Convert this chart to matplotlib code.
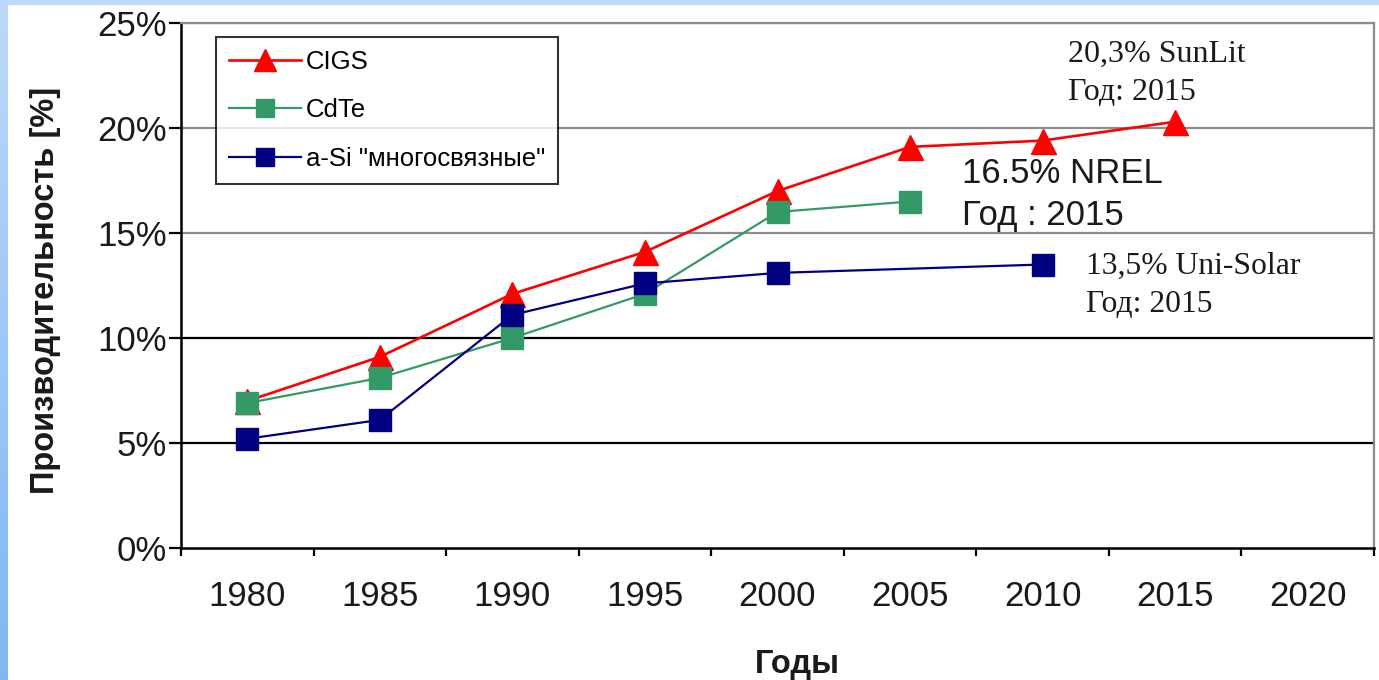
import numpy as np
import matplotlib
matplotlib.use("Agg")
import matplotlib.pyplot as plt
from matplotlib.patches import Rectangle

# Data: efficiency of thin-film solar cells by year
years = ["1980", "1985", "1990", "1995", "2000", "2005", "2010", "2015", "2020"]
cigs = [7.0, 9.1, 12.1, 14.1, 17.0, 19.1, 19.4, 20.3, None]
cdte = [6.9, 8.1, 10.0, 12.1, 16.0, 16.5, None, None, None]
asi = [5.2, 6.1, 11.1, 12.6, 13.1, None, 13.5, None, None]
series_names = ["CIGS", "CdTe", "a-Si \"многосвязные\""]
y_ticks = [0, 5, 10, 15, 20, 25]

SANS = ["Liberation Sans", "DejaVu Sans"]
SERIF = ["Liberation Serif", "DejaVu Serif"]
plt.rcParams["font.family"] = SANS

W, H = 1379, 680
fig = plt.figure(figsize=(W / 100, H / 100), dpi=100, facecolor="white")

# Light blue frame along the top and left edges
grad = fig.add_axes([0, 0, 8 / W, 1])
g = np.linspace(0, 1, 256).reshape(-1, 1)
top_c = np.array([0.74, 0.85, 0.98])
bot_c = np.array([0.50, 0.72, 0.95])
img = (bot_c * (1 - g) + top_c * g).reshape(256, 1, 3)
grad.imshow(img, aspect="auto", origin="lower", extent=[0, 1, 0, 1])
grad.set_axis_off()
fig.patches.append(Rectangle((0, 1 - 5 / H), 1, 5 / H, transform=fig.transFigure,
                             facecolor=(0.74, 0.85, 0.98), edgecolor="none", zorder=0))

L, R, T, B = 181, 1374, 23, 548
ax = fig.add_axes([L / W, 1 - B / H, (R - L) / W, (B - T) / H])
ax.set_facecolor("white")

x = np.arange(len(years))

def pts(vals):
    xs = [xi for xi, v in zip(x, vals) if v is not None]
    ys = [v for v in vals if v is not None]
    return xs, ys

# Horizontal grid lines
for yv in y_ticks[1:]:
    col = "black" if yv in (5, 10) else "#8c8c8c"
    ax.axhline(yv, color=col, lw=1.6, zorder=1)

xs, ys = pts(cigs)
ax.plot(xs, ys, color="#ff0000", lw=1.9, marker="^", ms=18, mec="#ff0000",
        mfc="#ff0000", label=series_names[0], zorder=3)
xs, ys = pts(cdte)
ax.plot(xs, ys, color="#339966", lw=1.6, marker="s", ms=15.5, mec="#339966",
        mfc="#339966", label=series_names[1], zorder=4)
xs, ys = pts(asi)
ax.plot(xs, ys, color="#000080", lw=1.6, marker="s", ms=15.5, mec="#000080",
        mfc="#000080", label=series_names[2], zorder=5)

ax.set_xlim(-0.5, len(years) - 0.5)
ax.set_ylim(0, 25)

# Category axis: tick marks between categories, labels at centres
ax.set_xticks(np.arange(-0.5, len(years), 1.0))
ax.set_xticklabels([])
ax.set_xticks(x, minor=True)
ax.set_xticklabels(years, minor=True, fontsize=25, color="#1a1a1a")
ax.tick_params(axis="x", which="major", length=6, width=1.6, direction="out", color="black")
ax.tick_params(axis="x", which="minor", length=0, pad=23)

ax.set_yticks(y_ticks)
ax.set_yticklabels([f"{v}%" for v in y_ticks], fontsize=25, color="#1a1a1a")
ax.tick_params(axis="y", length=9, width=1.6, direction="out", pad=1, color="black")

for s in ("left", "bottom"):
    ax.spines[s].set_color("black")
    ax.spines[s].set_linewidth(1.8)
for s in ("top", "right"):
    ax.spines[s].set_color("#8c8c8c")
    ax.spines[s].set_linewidth(1.6)

leg = ax.legend(loc="upper left", bbox_to_anchor=((216 - L) / (R - L), (B - 37) / (B - T)),
                borderaxespad=0, fontsize=18.5, frameon=True, fancybox=False,
                edgecolor="black", handlelength=2.8, handletextpad=0.2,
                labelspacing=0.95, borderpad=0.5, markerscale=0.85)
leg.get_frame().set_linewidth(1.5)
leg.set_zorder(10)

# Record-efficiency annotations (anchored at the baseline of the last line)
ax.text((1068 - L) / (R - L), (B - 100) / (B - T), "20,3% SunLit\nГод: 2015",
        transform=ax.transAxes, family=SERIF, fontsize=23, color="#1a1a1a",
        ha="left", va="baseline", linespacing=1.4)
ax.text((962 - L) / (R - L), (B - 225) / (B - T), "16.5% NREL\nГод : 2015",
        transform=ax.transAxes, family=SANS, fontsize=25, color="#1a1a1a",
        ha="left", va="baseline", linespacing=1.35)
ax.text((1086 - L) / (R - L), (B - 312) / (B - T), "13,5% Uni-Solar\nГод: 2015",
        transform=ax.transAxes, family=SERIF, fontsize=22.8, color="#1a1a1a",
        ha="left", va="baseline", linespacing=1.4)

fig.text(46 / W, 1 - 290 / H, "Производительность [%]", rotation=90,
         ha="center", va="center", fontsize=23.5, fontweight="bold", color="#1a1a1a")
fig.text(797 / W, 1 - 664 / H, "Годы", ha="center", va="center",
         fontsize=23.5, fontweight="bold", color="#1a1a1a")

fig.savefig("out.png", dpi=100, facecolor="white")
